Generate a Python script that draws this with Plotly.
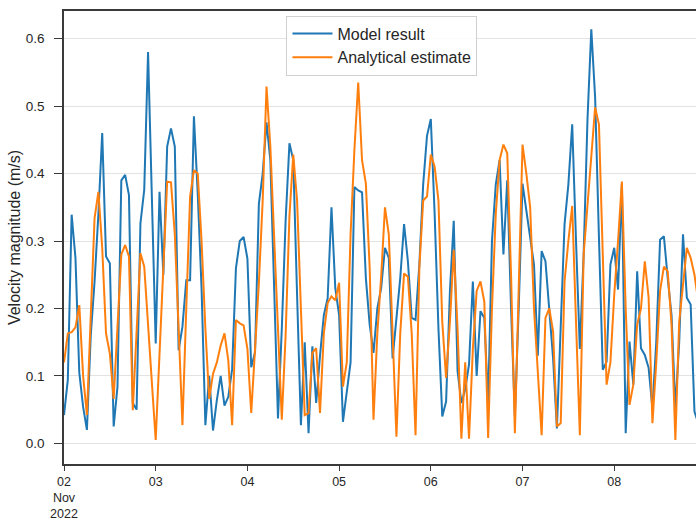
import pandas as pd
import plotly.graph_objects as go

# Hourly velocity magnitudes (m/s), starting 2022-11-02 00:00
model_result = [
    0.042, 0.094, 0.339, 0.275, 0.105, 0.054, 0.020, 0.160, 0.240, 0.340,
    0.460, 0.277, 0.267, 0.025, 0.084, 0.390, 0.398, 0.368, 0.060, 0.050,
    0.326, 0.376, 0.580, 0.360, 0.148, 0.373, 0.250, 0.440, 0.467, 0.440,
    0.138, 0.173, 0.242, 0.242, 0.485, 0.370, 0.230, 0.027, 0.100, 0.019,
    0.064, 0.100, 0.056, 0.069, 0.110, 0.260, 0.300, 0.306, 0.274, 0.113,
    0.135, 0.355, 0.400, 0.476, 0.420, 0.230, 0.037, 0.170, 0.330, 0.445,
    0.420, 0.220, 0.027, 0.150, 0.015, 0.144, 0.060, 0.130, 0.190, 0.215,
    0.350, 0.230, 0.190, 0.032, 0.077, 0.120, 0.380, 0.375, 0.372, 0.245,
    0.176, 0.134, 0.200, 0.230, 0.290, 0.275, 0.126, 0.186, 0.245, 0.325,
    0.270, 0.186, 0.183, 0.265, 0.384, 0.456, 0.481, 0.340, 0.170, 0.040,
    0.062, 0.226, 0.330, 0.107, 0.060, 0.080, 0.117, 0.240, 0.100, 0.196,
    0.186, 0.060, 0.300, 0.384, 0.420, 0.280, 0.390, 0.200, 0.040, 0.200,
    0.385, 0.345, 0.305, 0.265, 0.130, 0.285, 0.270, 0.200, 0.126, 0.022,
    0.166, 0.325, 0.384, 0.473, 0.300, 0.140, 0.280, 0.480, 0.614, 0.513,
    0.305, 0.109, 0.121, 0.265, 0.290, 0.228, 0.384, 0.015, 0.151, 0.087,
    0.255, 0.141, 0.131, 0.112, 0.052, 0.150, 0.302, 0.307, 0.245, 0.190,
    0.052, 0.150, 0.310, 0.216, 0.206, 0.047, 0.030,
]

analytical_estimate = [
    0.120, 0.163, 0.165, 0.172, 0.205, 0.100, 0.042, 0.180, 0.334, 0.373,
    0.290, 0.163, 0.133, 0.066, 0.180, 0.280, 0.294, 0.277, 0.049, 0.160,
    0.282, 0.262, 0.170, 0.090, 0.005, 0.130, 0.250, 0.388, 0.387, 0.310,
    0.170, 0.027, 0.200, 0.366, 0.405, 0.400, 0.300, 0.170, 0.066, 0.103,
    0.120, 0.145, 0.163, 0.123, 0.027, 0.183, 0.178, 0.175, 0.140, 0.045,
    0.140, 0.238, 0.360, 0.529, 0.440, 0.310, 0.163, 0.035, 0.160, 0.337,
    0.428, 0.360, 0.200, 0.042, 0.045, 0.134, 0.141, 0.045, 0.163, 0.208,
    0.218, 0.212, 0.238, 0.084, 0.120, 0.310, 0.435, 0.535, 0.420, 0.385,
    0.260, 0.035, 0.163, 0.247, 0.350, 0.310, 0.163, 0.010, 0.163, 0.252,
    0.247, 0.163, 0.012, 0.260, 0.360, 0.366, 0.428, 0.410, 0.360, 0.180,
    0.097, 0.180, 0.287, 0.170, 0.007, 0.120, 0.007, 0.140, 0.226, 0.240,
    0.210, 0.008, 0.200, 0.340, 0.420, 0.443, 0.430, 0.250, 0.015, 0.250,
    0.443, 0.400, 0.350, 0.200, 0.100, 0.012, 0.186, 0.200, 0.166, 0.025,
    0.030, 0.240, 0.300, 0.352, 0.180, 0.012, 0.280, 0.350, 0.420, 0.498,
    0.473, 0.280, 0.087, 0.120, 0.220, 0.300, 0.388, 0.200, 0.057, 0.087,
    0.176, 0.200, 0.270, 0.216, 0.030, 0.120, 0.226, 0.262, 0.255, 0.176,
    0.005, 0.180, 0.240, 0.290, 0.275, 0.250, 0.210,
]

times = pd.date_range("2022-11-02 00:00", periods=len(model_result), freq="h")

day_ticks = pd.date_range("2022-11-02", "2022-11-08", freq="D")
day_labels = ["02<br>Nov<br>2022", "03", "04", "05", "06", "07", "08"]
y_ticks = [0.0, 0.1, 0.2, 0.3, 0.4, 0.5, 0.6]

font_family = "Liberation Sans, Arial, sans-serif"
text_color = "#262626"
edge_color = "#3a3a3a"

fig = go.Figure()
fig.add_trace(go.Scatter(x=times, y=model_result, mode="lines",
                         name="Model result",
                         line=dict(color="#1f77b4", width=2)))
fig.add_trace(go.Scatter(x=times, y=analytical_estimate, mode="lines",
                         name="Analytical estimate",
                         line=dict(color="#ff7f0e", width=2)))

fig.update_layout(
    width=696, height=520,
    margin=dict(l=64, r=0, t=11, b=56),
    paper_bgcolor="white", plot_bgcolor="white",
    font=dict(family=font_family, color=text_color, size=13.5),
    showlegend=True,
    legend=dict(
        x=0.352, y=0.99, xanchor="left", yanchor="top",
        bgcolor="rgba(255,255,255,0.85)", bordercolor="#d0d0d0", borderwidth=1,
        font=dict(size=16, color=text_color),
        itemwidth=40,
        tracegroupgap=0,
    ),
)

fig.update_xaxes(
    range=[pd.Timestamp("2022-11-02 00:00"), pd.Timestamp("2022-11-08 21:24")],
    tickvals=day_ticks, ticktext=day_labels,
    ticks="outside", ticklen=5, tickwidth=1.2, tickcolor=edge_color,
    showline=True, linecolor=edge_color, linewidth=1.5, mirror=True,
    showgrid=False, zeroline=False, automargin=False,
    tickfont=dict(size=12.5, color=text_color),
    ticklabelstandoff=0,
)

fig.update_yaxes(
    range=[-0.0306, 0.641],
    tickvals=y_ticks, ticktext=[f"{v:.1f}" for v in y_ticks],
    ticks="outside", ticklen=8, tickwidth=1.2, tickcolor=edge_color,
    showline=True, linecolor=edge_color, linewidth=1.5, mirror=False,
    showgrid=True, gridcolor="#e3e3e3", gridwidth=1,
    zeroline=False, automargin=False,
    tickfont=dict(size=13.5, color=text_color),
    ticklabelstandoff=7,
    title=dict(text="Velocity magnitude (m/s)", font=dict(size=16, color=text_color),
               standoff=1),
)

fig.write_html("out.html")
